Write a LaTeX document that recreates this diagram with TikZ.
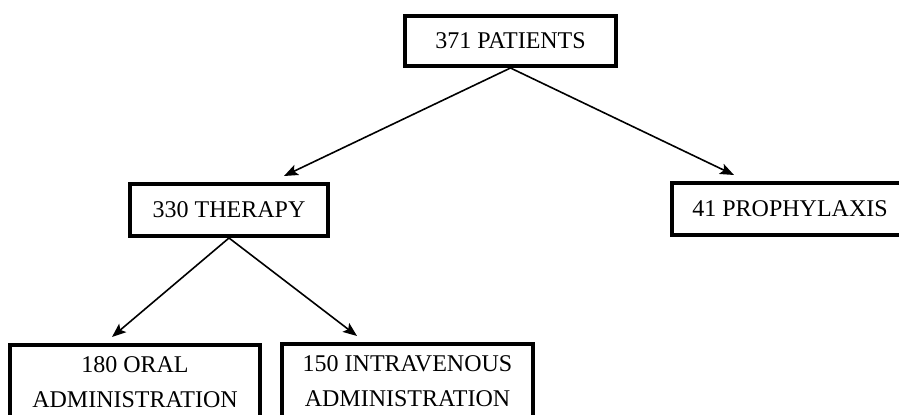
\documentclass[tikz,border=0pt]{standalone}
\usepackage{fontspec}
\setmainfont{Liberation Serif}
\usetikzlibrary{arrows.meta}
\tikzset{
  box/.style={draw, line width=2pt, fill=white, align=center,
    font=\fontsize{12}{17.5}\selectfont, inner sep=0pt},
  arr/.style={-{Stealth[length=7pt,width=5.5pt,inset=1.5pt]}, line width=0.8pt},
}
\begin{document}
\begin{tikzpicture}[x=0.5pt,y=-0.5pt]
  \useasboundingbox (0,0) rectangle (899,415);
  \clip (0,0) rectangle (899,415);
  % boxes
  \node[box, minimum width=105.5pt, minimum height=25pt] (pat) at (510.5,41) {371 PATIENTS};
  \node[box, minimum width=99pt, minimum height=26pt] (ther) at (229,210) {330 THERAPY};
  \node[box, minimum width=118pt, minimum height=26pt] (proph) at (790,209) {41 PROPHYLAXIS};
  \node[box, minimum width=125pt, minimum height=37pt] (oral) at (135,382) {180 ORAL\\ADMINISTRATION};
  \node[box, minimum width=125.5pt, minimum height=37pt] (iv) at (407.5,381.5) {150 INTRAVENOUS\\ADMINISTRATION};
  % arrow ends
  \coordinate (toTher) at (284,176);
  \coordinate (toProph) at (734,175);
  \coordinate (toOral) at (112,337);
  \coordinate (toIv) at (357,336);
  \draw[arr] (pat.south) -- (toTher);
  \draw[arr] (pat.south) -- (toProph);
  \draw[arr] (ther.south) -- (toOral);
  \draw[arr] (ther.south) -- (toIv);
\end{tikzpicture}
\end{document}
